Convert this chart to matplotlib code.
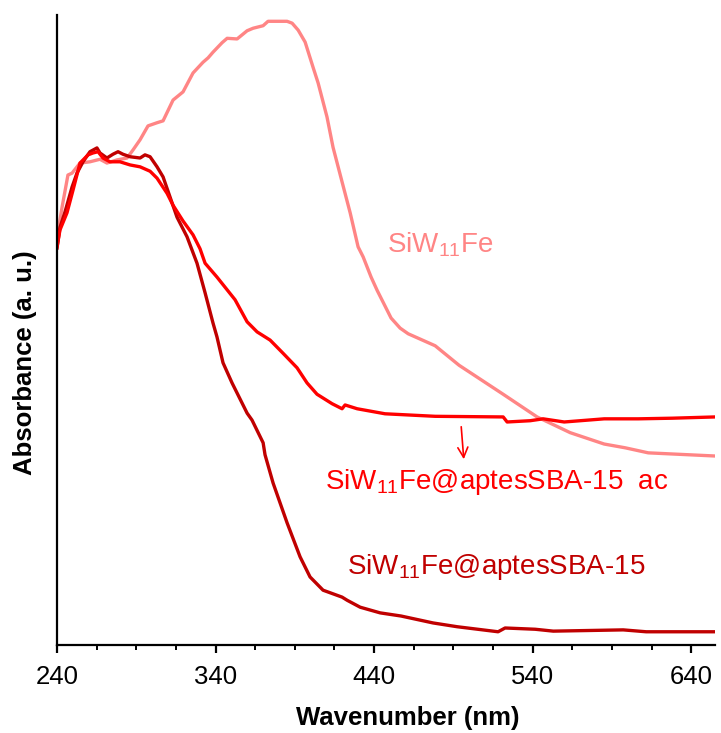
import numpy as np
import matplotlib
matplotlib.use("Agg")
import matplotlib.pyplot as plt

plt.rcParams['font.family'] = ['Liberation Sans', 'DejaVu Sans']
plt.rcParams['mathtext.default'] = 'regular'

# SiW11Fe (pink)
wl_pink = [240, 243.2, 246.9, 249.5, 254.5, 260.8, 267.1, 271.5, 277.9, 284.2, 288.0, 292.4,
           297.4, 303.1, 306.9, 313.2, 319.5, 325.8, 332.1, 335.3, 338.4, 344.1, 347.3, 353.6,
           359.9, 363.7, 370.0, 373.1, 378.8, 385.1, 388.3, 392.1, 396.5, 401.5, 404.7, 410.3,
           414.1, 419.8, 424.9, 429.9, 433.1, 438.1, 441.9, 450.7, 456.4, 461.5, 478.5, 493.6,
           521.4, 542.8, 563.7, 585.1, 598.4, 612.9, 655]
ab_pink = [0.646, 0.695, 0.746, 0.749, 0.765, 0.767, 0.771, 0.765, 0.770, 0.773, 0.786, 0.802,
           0.824, 0.829, 0.832, 0.865, 0.878, 0.908, 0.925, 0.932, 0.941, 0.956, 0.963, 0.962,
           0.975, 0.979, 0.983, 0.990, 0.990, 0.990, 0.987, 0.976, 0.957, 0.917, 0.892, 0.838,
           0.790, 0.735, 0.686, 0.632, 0.616, 0.584, 0.563, 0.519, 0.503, 0.494, 0.475, 0.444,
           0.398, 0.362, 0.337, 0.319, 0.313, 0.305, 0.300]

# SiW11Fe@aptesSBA-15 ac (red)
wl_red = [240, 241.9, 246.3, 250.1, 254.5, 259.6, 262.7, 265.9, 269.0, 273.4, 279.7, 286.1,
          292.4, 298.7, 303.1, 309.4, 313.2, 319.5, 325.8, 330.2, 333.4, 340.9, 352.3, 359.9,
          366.2, 374.4, 382.6, 391.4, 397.7, 404.0, 413.5, 419.8, 421.7, 429.3, 446.9, 478.5,
          521.4, 523.9, 538.4, 546.6, 559.9, 585.1, 606.6, 628.0, 655]
ab_red = [0.632, 0.659, 0.686, 0.722, 0.765, 0.778, 0.781, 0.783, 0.773, 0.767, 0.767, 0.762,
          0.759, 0.752, 0.741, 0.717, 0.698, 0.673, 0.651, 0.629, 0.606, 0.584, 0.548, 0.513,
          0.497, 0.484, 0.463, 0.440, 0.416, 0.398, 0.383, 0.375, 0.381, 0.375, 0.367, 0.363,
          0.362, 0.354, 0.356, 0.359, 0.354, 0.359, 0.359, 0.360, 0.362]

# SiW11Fe@aptesSBA-15 (dark red)
wl_dark = [240, 241.9, 245.0, 249.5, 252.6, 256.4, 260.8, 265.2, 267.1, 271.5, 275.3, 278.5,
           281.6, 286.1, 292.4, 295.5, 298.7, 303.1, 306.9, 311.3, 315.7, 322.0, 328.3, 333.4,
           338.4, 340.9, 344.7, 350.4, 359.9, 363.0, 370.0, 371.2, 376.3, 385.1, 393.3, 399.6,
           407.8, 419.8, 423.0, 431.2, 443.8, 457.0, 477.2, 492.4, 518.2, 522.6, 541.6, 553.0,
           597.1, 611.6, 655]
ab_dark = [0.630, 0.663, 0.687, 0.727, 0.749, 0.767, 0.783, 0.789, 0.781, 0.773, 0.779, 0.783,
           0.779, 0.775, 0.773, 0.778, 0.775, 0.759, 0.743, 0.711, 0.679, 0.648, 0.606, 0.559,
           0.511, 0.489, 0.448, 0.416, 0.368, 0.357, 0.321, 0.302, 0.257, 0.194, 0.140, 0.108,
           0.087, 0.076, 0.071, 0.060, 0.051, 0.046, 0.035, 0.029, 0.021, 0.027, 0.025, 0.022,
           0.024, 0.021, 0.021]

major_ticks = [240, 340, 440, 540, 640]
minor_ticks = [265, 290, 315, 365, 390, 415, 465, 490, 515, 565, 590, 615]

fig = plt.figure(figsize=(7.21, 7.33), dpi=100)
ax = fig.add_axes([57/721, 88/733, 658/721, 630/733])

ax.plot(wl_pink, ab_pink, color='#ff8585', lw=2.4, solid_joinstyle='round')
ax.plot(wl_dark, ab_dark, color='#c00000', lw=2.4, solid_joinstyle='round')
ax.plot(wl_red, ab_red, color='#ff0000', lw=2.4, solid_joinstyle='round')

ax.set_xlim(240, 655)
ax.set_ylim(0, 1)
ax.spines['top'].set_visible(False)
ax.spines['right'].set_visible(False)
ax.spines['left'].set_linewidth(1.6)
ax.spines['bottom'].set_linewidth(1.6)
ax.set_yticks([])
ax.set_xticks(major_ticks)
ax.set_xticks(minor_ticks, minor=True)
ax.tick_params(axis='x', which='major', length=5.5, width=1.6, labelsize=18.5, pad=9)
ax.tick_params(axis='x', which='minor', length=3.5, width=1.4)

ax.set_xlabel('Wavenumber (nm)', fontsize=18.5, fontweight='bold')
ax.set_ylabel('Absorbance (a. u.)', fontsize=18.5, fontweight='bold')
ax.xaxis.set_label_coords(0.533, -0.097)
ax.yaxis.set_label_coords(-0.030, 0.448)

# label positions given in pixels from top-left
labels = [(387, 245, r'SiW$_{11}$Fe', '#ff8585'),
          (325, 482, r'SiW$_{11}$Fe@aptesSBA-15  ac', '#ff0000'),
          (347, 567, r'SiW$_{11}$Fe@aptesSBA-15', '#c00000')]
for px, py, s, c in labels:
    fig.text(px / 721, 1 - py / 733, s, fontsize=20, color=c, ha='left', va='center')

ax.annotate('', xy=(464 / 721, 1 - 462 / 733), xytext=(461 / 721, 1 - 424 / 733),
            xycoords='figure fraction', textcoords='figure fraction',
            arrowprops=dict(arrowstyle='->', color='#ff0000', lw=1.2, mutation_scale=18))

fig.savefig('out.png', dpi=100)
